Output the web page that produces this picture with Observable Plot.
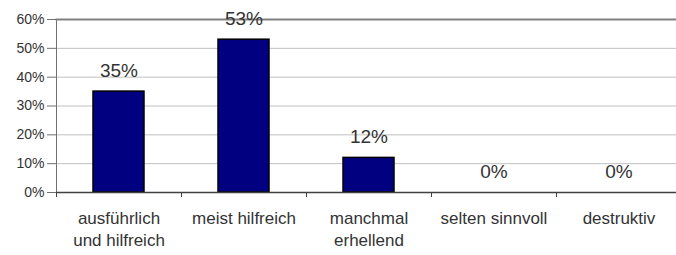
<!DOCTYPE html>
<html>
<head>
<meta charset="utf-8">
<script src="https://cdn.jsdelivr.net/npm/d3@7"></script>
<script src="https://cdn.jsdelivr.net/npm/@observablehq/plot@0.6"></script>
<style>
  html, body { margin: 0; padding: 0; background: #fff; }
  svg { display: block; }
</style>
</head>
<body>
<div id="chart"></div>
<script>
const categories = ["ausführlich und hilfreich", "meist hilfreich", "manchmal erhellend", "selten sinnvoll", "destruktiv"];
const tickLabels = ["ausführlich\nund hilfreich", "meist hilfreich", "manchmal\nerhellend", "selten sinnvoll", "destruktiv"];
const values = [0.35, 0.53, 0.12, 0, 0];
const yTicks = [0, 0.1, 0.2, 0.3, 0.4, 0.5, 0.6];

const data = categories.map((c, i) => ({category: c, value: values[i]}));
const labelOf = new Map(categories.map((c, i) => [c, tickLabels[i]]));
const pct = d3.format(".0%");

const width = 676, marginLeft = 56, marginRight = -5;
const step = (width - marginRight - marginLeft) / categories.length;

const chart = Plot.plot({
  width, height: 255,
  marginLeft, marginRight, marginTop: 19, marginBottom: 63,
  style: {fontFamily: "'Liberation Sans', Arial, sans-serif", color: "#333", background: "#fff"},
  x: {domain: categories, paddingInner: 0.59, paddingOuter: 0.295},
  y: {domain: [0, 0.6]},
  marks: [
    Plot.gridY(yTicks.slice(1, -1), {stroke: "#c0c0c0", strokeOpacity: 1}),
    Plot.frame({anchor: "left", stroke: "#707070"}),
    Plot.frame({anchor: "top", stroke: "#808080", strokeWidth: 2}),
    Plot.axisY(yTicks, {tickFormat: pct, tickSize: 9, tickPadding: 3, fontSize: 14, stroke: "#707070", fill: "#333", label: null}),
    Plot.barY(data, {x: "category", y: "value", fill: "#000080", stroke: "#000", strokeWidth: 1.5}),
    Plot.ruleY([0], {stroke: "#404040", strokeWidth: 1.5}),
    Plot.axisX({tickSize: 5, tickFormat: () => "", dx: -step / 2, stroke: "#404040", label: null}),
    Plot.axisX({tickSize: 0, tickPadding: 17, tickFormat: d => labelOf.get(d), fontSize: 17, lineHeight: 1.24, fill: "#333", label: null}),
    Plot.text(data, {x: "category", y: "value", text: d => pct(d.value), dy: -21, fontSize: 19, fill: "#333"})
  ]
});
document.getElementById("chart").appendChild(chart);
</script>
</body>
</html>
